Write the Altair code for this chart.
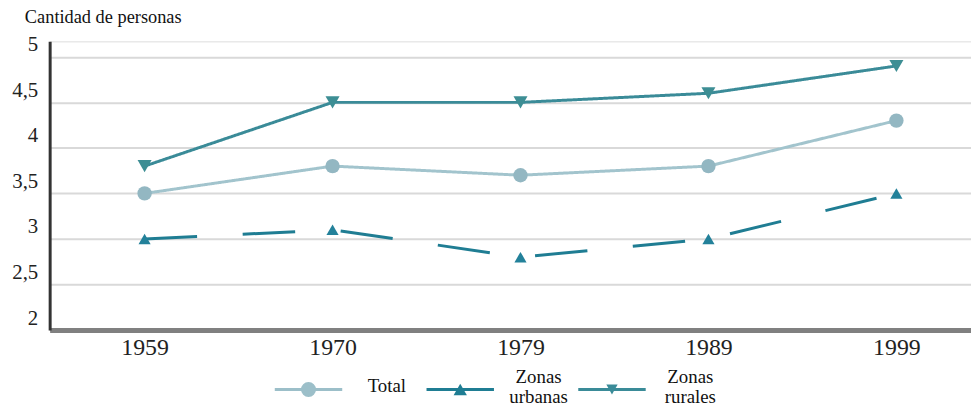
import altair as alt
import pandas as pd

years = ["1959", "1970", "1979", "1989", "1999"]
series = ["Total", "Zonas urbanas", "Zonas rurales"]
total = [3.5, 3.8, 3.7, 3.8, 4.3]
urbanas = [3.0, 3.1, 2.8, 3.0, 3.5]
rurales = [3.8, 4.5, 4.5, 4.6, 4.9]
y_ticks = [2, 2.5, 3, 3.5, 4, 4.5, 5]

line_colors = ["#a2c4cd", "#1f7d93", "#3a8b98"]
marker_colors = ["#93b7c2", "#23819a", "#3d8e94"]
legend_colors = ["#9cbfc9", "#1f7d93", "#3a8b98"]
dashes = [[1, 0], [53, 46], [1, 0]]
markers = ["circle", "triangle-up", "triangle-down"]
marker_sizes = [210, 150, 200]
legend_marker_sizes = [230, 130, 190]

SERIF = "Liberation Serif, Times New Roman, serif"

rows = []
for name, vals in zip(series, [total, urbanas, rurales]):
    for yr, v in zip(years, vals):
        rows.append({"year": yr, "serie": name, "value": v})
df = pd.DataFrame(rows)
legend_df = pd.DataFrame({"serie": series})

x_enc = alt.X(
    "year:O",
    sort=years,
    scale=alt.Scale(type="point", padding=0.451, align=0.56),
    axis=alt.Axis(
        title=None, labelAngle=0, ticks=False, domainColor="#808080", domainWidth=5,
        labelFont=SERIF, labelFontSize=24, labelColor="#222222",
        labelPadding=6, grid=False,
    ),
)
y_enc = alt.Y(
    "value:Q",
    scale=alt.Scale(domain=[2, 5.17], nice=False, zero=False),
    axis=alt.Axis(
        title=None, values=y_ticks, ticks=False, domainColor="#333333", domainWidth=3,
        grid=True, gridColor="#d9d9d9", gridWidth=2,
        labelExpr="replace(format(datum.value, '.1~f'), '.', ',')",
        labelFont=SERIF, labelFontSize=21, labelColor="#222222",
        labelPadding=12, labelOffset=-12,
    ),
)

base = alt.Chart(df).encode(x=x_enc, y=y_enc)

lines = base.mark_line(strokeWidth=3).encode(
    stroke=alt.Stroke("serie:N", scale=alt.Scale(domain=series, range=line_colors), legend=None),
    strokeDash=alt.StrokeDash("serie:N", scale=alt.Scale(domain=series, range=dashes), legend=None),
    detail="serie:N",
)

point_layers = []
for name, shp, col, sz in zip(series, markers, marker_colors, marker_sizes):
    point_layers.append(
        base.mark_point(filled=True, opacity=1, shape=shp, color=col, size=sz)
        .transform_filter(alt.datum.serie == name)
    )

main = alt.layer(lines, *point_layers)

# legend row, drawn from the series list through its own point scale
lx = alt.X(
    "serie:N", sort=series,
    scale=alt.Scale(type="point", domain=series, range=[261, 567], padding=0),
    axis=None,
)
leg_base = alt.Chart(legend_df).encode(x=lx, y=alt.value(351))
leg_color = alt.Color("serie:N", scale=alt.Scale(domain=series, range=legend_colors), legend=None)

leg_lines = leg_base.mark_rule(strokeWidth=3, xOffset=-34, x2Offset=34).encode(
    x2=alt.X2("serie:N"), color=leg_color
)
leg_points = leg_base.mark_point(filled=True, opacity=1).encode(
    color=leg_color,
    shape=alt.Shape("serie:N", scale=alt.Scale(domain=series, range=markers), legend=None),
    size=alt.Size("serie:N", scale=alt.Scale(domain=series, range=legend_marker_sizes), legend=None),
)
txt = dict(font=SERIF, fontSize=19, color="#111111", align="center", baseline="middle", dx=79)
leg_text_single = leg_base.mark_text(dy=-3, **txt).encode(text="serie:N").transform_filter(
    "indexof(datum.serie, ' ') < 0"
)
leg_text_top = (
    leg_base.mark_text(dy=-13, **txt)
    .encode(text="w1:N")
    .transform_filter("indexof(datum.serie, ' ') >= 0")
    .transform_calculate(w1="split(datum.serie, ' ')[0]")
)
leg_text_bottom = (
    leg_base.mark_text(dy=8, **txt)
    .encode(text="w2:N")
    .transform_filter("indexof(datum.serie, ' ') >= 0")
    .transform_calculate(w2="split(datum.serie, ' ')[1]")
)

legend = alt.layer(leg_lines, leg_points, leg_text_single, leg_text_top, leg_text_bottom)

chart = (
    alt.layer(main, legend)
    .resolve_scale(x="independent", color="independent", shape="independent", size="independent")
    .properties(
        width=929,
        height=291,
        autosize=alt.AutoSizeParams(type="none"),
        padding={"left": 42, "top": 32, "right": 0, "bottom": 75},
        title=alt.Title(
            "Cantidad de personas", anchor="start", frame="group", dx=-25, offset=8,
            font=SERIF, fontSize=18.5, fontWeight="normal", color="#111111",
        ),
    )
    .configure_view(strokeWidth=0)
    .configure(background="white")
)

chart.save("out.html", embed_options={"renderer": "svg", "actions": False})
